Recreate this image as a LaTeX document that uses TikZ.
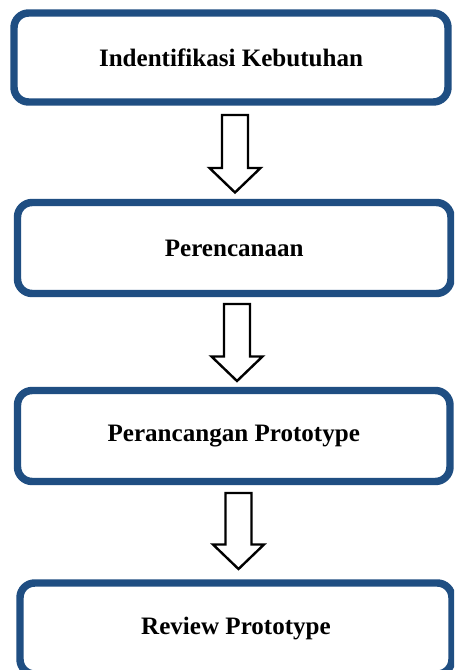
\documentclass[tikz,border=0pt]{standalone}
\usepackage{fontspec}
\setmainfont{Liberation Serif}
\usetikzlibrary{calc}
\definecolor{boxblue}{RGB}{31,78,130}
\tikzset{
  stepbox/.style={draw=boxblue, line width=5.6pt, rounded corners=11pt, fill=white,
    font=\fontsize{18.8pt}{22pt}\selectfont\bfseries, text=black, inner sep=0pt},
  hollow/.style={draw=black, line width=1.8pt, fill=white, line join=miter},
}
\newcommand\hollowarrow[2]{%
  \draw[hollow] ($(#1)+(-13,0)$) -- ($(#1)+(13,0)$) -- ($(#2)+(13,-24.5)$)
    -- ($(#2)+(25.5,-24.5)$) -- (#2) -- ($(#2)+(-25.5,-24.5)$)
    -- ($(#2)+(-13,-24.5)$) -- cycle;}
\begin{document}
\begin{tikzpicture}[x=0.75pt,y=-0.75pt]
\useasboundingbox (0,0) rectangle (454,670);
\clip (0,0) rectangle (454,670);
\fill[white] (0,0) rectangle (454,670);
\node[stepbox, minimum width=434*0.75pt, minimum height=89*0.75pt] (b1) at (231,57.5) {Indentifikasi Kebutuhan};
\node[stepbox, minimum width=433.5*0.75pt, minimum height=91*0.75pt] (b2) at (234.25,248) {Perencanaan};
\node[stepbox, minimum width=432.5*0.75pt, minimum height=91*0.75pt] (b3) at (233.75,436) {Perancangan Prototype};
\node[stepbox, minimum width=432*0.75pt, minimum height=91*0.75pt] (b4) at (236,628.5) {Review Prototype};
\coordinate (a1s) at (235,115);
\coordinate (a1e) at (235,192.5);
\coordinate (a2s) at (237,304);
\coordinate (a2e) at (237,381);
\coordinate (a3s) at (238.5,493);
\coordinate (a3e) at (238.5,569);
\hollowarrow{a1s}{a1e}
\hollowarrow{a2s}{a2e}
\hollowarrow{a3s}{a3e}
\end{tikzpicture}
\end{document}
